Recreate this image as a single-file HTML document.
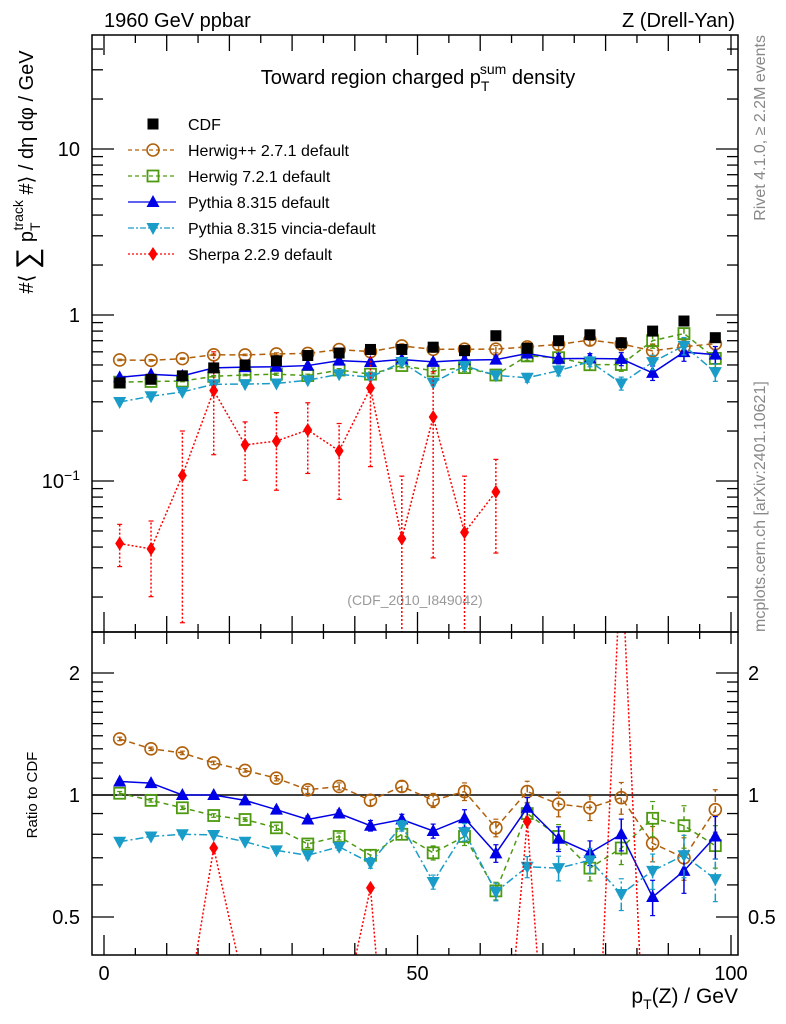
<!DOCTYPE html>
<html><head><meta charset="utf-8"><style>
html,body{margin:0;padding:0;background:#fff;width:786px;height:1024px;overflow:hidden;}
svg{display:block;font-family:"Liberation Sans",sans-serif;}
</style></head><body>
<svg id="chart" width="786" height="1024" xmlns="http://www.w3.org/2000/svg">
<defs>
<clipPath id="cm"><rect x="92" y="35" width="646" height="597"/></clipPath>
<clipPath id="cr"><rect x="92" y="632" width="646" height="323"/></clipPath>
</defs>
<text x="104" y="27" font-size="20">1960 GeV ppbar</text>
<text x="735" y="27" font-size="20" text-anchor="end">Z (Drell-Yan)</text>
<text x="418" y="84" font-size="20" text-anchor="middle">Toward region charged p<tspan font-size="14" dy="7">T</tspan><tspan font-size="14" dx="-8" dy="-17">sum</tspan><tspan dy="10"> density</tspan></text>
<text transform="translate(33,172) rotate(-90)" font-size="20" text-anchor="middle">#⟨ <tspan font-size="30" dy="4">∑</tspan><tspan dy="-4"> p</tspan><tspan font-size="14" dy="7">T</tspan><tspan font-size="14" dx="-8" dy="-17">track</tspan><tspan dy="10"> #⟩ / dη dφ / GeV</tspan></text>
<text transform="translate(37,795) rotate(-90)" font-size="15" text-anchor="middle">Ratio to CDF</text>
<text x="738" y="1003" font-size="21" text-anchor="end">p<tspan font-size="14" dy="6">T</tspan><tspan dy="-6">(Z) / GeV</tspan></text>
<text transform="translate(765,35) rotate(-90)" font-size="16" fill="#888" text-anchor="end">Rivet 4.1.0, ≥ 2.2M events</text>
<text transform="translate(765,632) rotate(-90)" font-size="16" fill="#888">mcplots.cern.ch [arXiv:2401.10621]</text>
<text x="415" y="605" font-size="14" fill="#999" text-anchor="middle">(CDF_2010_I849042)</text>
<g id="axes"></g>
<g id="marks"></g>
<g id="legend"></g>
<rect x="92" y="35" width="646" height="597" fill="none" stroke="#000" stroke-width="1.5"/>
<rect x="92" y="632" width="646" height="323" fill="none" stroke="#000" stroke-width="1.5"/>
</svg>
<script>
const bins=[2.5,7.5,12.5,17.5,22.5,27.5,32.5,37.5,42.5,47.5,52.5,57.5,62.5,67.5,72.5,77.5,82.5,87.5,92.5,97.5];
const cdf=[0.39,0.41,0.43,0.48,0.50,0.53,0.57,0.59,0.62,0.62,0.64,0.61,0.75,0.63,0.70,0.76,0.68,0.80,0.92,0.73];
const herwigppRatio=[1.375,1.30,1.27,1.20,1.15,1.10,1.03,1.05,0.97,1.05,0.97,1.02,0.83,1.02,0.95,0.93,0.985,0.76,0.70,0.92];
const herwig7Ratio=[1.01,0.97,0.93,0.89,0.87,0.83,0.757,0.79,0.71,0.80,0.72,0.79,0.58,0.90,0.79,0.66,0.74,0.876,0.84,0.75];
const pythiaRatio=[1.08,1.07,1.00,1.00,0.97,0.92,0.87,0.90,0.84,0.87,0.815,0.876,0.718,0.93,0.78,0.72,0.80,0.56,0.65,0.79];
const vinciaRatio=[0.767,0.79,0.80,0.797,0.767,0.73,0.71,0.745,0.68,0.84,0.61,0.81,0.577,0.665,0.66,0.69,0.57,0.65,0.71,0.62];
const mcRelErr=[0.01,0.01,0.01,0.01,0.01,0.015,0.02,0.02,0.03,0.03,0.04,0.05,0.05,0.06,0.07,0.07,0.09,0.1,0.12,0.12];
const sherpa=[0.042,0.039,0.108,0.35,0.165,0.174,0.203,0.152,0.363,0.045,0.243,0.049,0.086,null,null,null,null,null,null,null];
const sherpaLo=[0.0305,0.0201,0.014,0.144,0.101,0.088,0.111,0.0775,0.122,0.005,0.0344,0.005,0.0368,null,null,null,null,null,null,null];
const sherpaHi=[0.0548,0.0574,0.2,0.6,0.227,0.258,0.296,0.222,0.6,0.107,0.455,0.107,0.135,null,null,null,null,null,null,null];
const sherpaRatio=[0.11,0.095,0.25,0.74,0.33,0.33,0.36,0.26,0.59,0.07,0.38,0.08,0.115,0.86,0.08,0.08,4.0,0.08,null,null];
const yMainTicks=["10","1"];

const NS="http://www.w3.org/2000/svg";
const X=v=>104+6.27*v;
const YM=v=>315-166*Math.log10(v);
const YR=r=>795-405.3*Math.log10(r);
const axes=document.getElementById('axes'), marks=document.getElementById('marks'), legend=document.getElementById('legend');
function el(t,a,p){const e=document.createElementNS(NS,t);for(const k in a)e.setAttribute(k,a[k]);(p||marks).appendChild(e);return e;}
function tick(x1,y1,x2,y2){const e=el('line',{x1,y1,x2,y2,stroke:'#000','stroke-width':1.3},axes);

}
for(let v=0;v<=100;v+=5){const x=X(v);const big=v%50===0?20:(v%10===0?16:8);
 tick(x,632,x,632-big);tick(x,35,x,35+big);tick(x,955,x,955-(v%50===0?20:(v%10===0?12:7)));tick(x,632,x,632+(v%10===0?12:7));}
[0,50,100].forEach(v=>{const t=el('text',{x:X(v),y:980,'font-size':20,'text-anchor':'middle'},axes);t.textContent=v;

});
for(let e=-2;e<=1;e++)for(let k=1;k<=9;k++){const v=k*Math.pow(10,e);const y=YM(v);if(y<35||y>632)continue;const L=k===1?22:11;tick(92,y,92+L,y);tick(738,y,738-L,y);}
yMainTicks.forEach(s=>{const t=el('text',{x:80,y:YM(parseFloat(s))+7,'font-size':20,'text-anchor':'end'},axes);t.textContent=s;

});
{const t=el('text',{x:80,y:YM(0.1)+7,'font-size':20,'text-anchor':'end'},axes);t.innerHTML='10<tspan font-size="14" dy="-8">−1</tspan>';

}
const rt=[0.5,0.6,0.7,0.8,0.9,1,1.1,1.2,1.3,1.4,1.5,1.6,1.7,1.8,1.9,2];
rt.forEach(r=>{const y=YR(r);const L=(r===1||r===2||r===0.5)?22:11;tick(92,y,92+L,y);tick(738,y,738-L,y);});
[["2",2],["1",1],["0.5",0.5]].forEach(([s,r])=>{let t=el('text',{x:80,y:YR(r)+7,'font-size':20,'text-anchor':'end'},axes);t.textContent=s;


t=el('text',{x:748,y:YR(r)+7,'font-size':20},axes);t.textContent=s;

});
{const l=el('line',{x1:92,y1:YR(1),x2:738,y2:YR(1),stroke:'#000','stroke-width':1.5});

}

function marker(type,x,y,c,g){
 let m;
 if(type==='sq')m=el('rect',{x:x-5.5,y:y-5.5,width:11,height:11,fill:c},g);
 else if(type==='osq')m=el('rect',{x:x-5.5,y:y-5.5,width:11,height:11,fill:'#fff','fill-opacity':0,stroke:c,'stroke-width':1.8},g);
 else if(type==='oc')m=el('circle',{cx:x,cy:y,r:6,fill:'none',stroke:c,'stroke-width':1.6},g);
 else if(type==='tu')m=el('polygon',{points:`${x},${y-7} ${x-6.5},${y+5} ${x+6.5},${y+5}`,fill:c},g);
 else if(type==='td')m=el('polygon',{points:`${x},${y+7} ${x-6.5},${y-5} ${x+6.5},${y-5}`,fill:c},g);
 else m=el('polygon',{points:`${x},${y-7} ${x-4.5},${y} ${x},${y+7} ${x+4.5},${y}`,fill:c},g);
 return m;
}
function series(name,vals,lo,hi,Y,clip,c,dash,type,noLine){
 const g=el('g',{'clip-path':`url(#${clip})`});
 
 
 if(!noLine){
 let pts=[];
 vals.forEach((v,i)=>{if(v==null){if(pts.length>1)el('polyline',{points:pts.join(' '),fill:'none',stroke:c,'stroke-width':1.5,'stroke-dasharray':dash},g);pts=[];return;}
  pts.push(X(bins[i])+','+Y(v));});
 if(pts.length>1)el('polyline',{points:pts.join(' '),fill:'none',stroke:c,'stroke-width':1.5,'stroke-dasharray':dash},g);
 }
 vals.forEach((v,i)=>{if(v==null)return;const x=X(bins[i]);
  if(lo&&lo[i]!=null){el('line',{x1:x,y1:Y(lo[i]),x2:x,y2:Y(hi[i]),stroke:c,'stroke-width':1.5,'stroke-dasharray':dash},g);
   el('line',{x1:x-2.5,y1:Y(lo[i]),x2:x+2.5,y2:Y(lo[i]),stroke:c,'stroke-width':1.2},g);
   el('line',{x1:x-2.5,y1:Y(hi[i]),x2:x+2.5,y2:Y(hi[i]),stroke:c,'stroke-width':1.2},g);}
  const m=marker(type,x,Y(v),c,g);
  
  });
}
const HC='#b0600a',GC='#4d9a10',PC='#0000e6',VC='#1a9cc8',SC='#ff0000';
const defs=[
 ['herwigpp',herwigppRatio,HC,'6,4','oc'],
 ['herwig7',herwig7Ratio,GC,'5,4','osq'],
 ['pythia',pythiaRatio,PC,'','tu'],
 ['vincia',vinciaRatio,VC,'8,3,2,3','td']];
defs.forEach(([n,r,c,d,t])=>{
 const main=r.map((x,i)=>x*cdf[i]);
 const lo=main.map((m,i)=>m*(1-mcRelErr[i])), hi=main.map((m,i)=>m*(1+mcRelErr[i]));
 series(n+'-main',main,lo,hi,YM,'cm',c,d,t);
 const rlo=r.map((x,i)=>x*(1-mcRelErr[i])), rhi=r.map((x,i)=>x*(1+mcRelErr[i]));
 series(n+'-ratio',r,rlo,rhi,YR,'cr',c,d,t);
});
series('sherpa-main',sherpa,sherpaLo,sherpaHi,YM,'cm',SC,'2,2','dia');
series('sherpa-ratio',sherpaRatio,null,null,YR,'cr',SC,'2,2','dia');
series('cdf-data',cdf,null,null,YM,'cm','#000','','sq',true);

const leg=[['CDF','#000','','sq'],['Herwig++ 2.7.1 default',HC,'4,3','oc'],['Herwig 7.2.1 default',GC,'4,3','osq'],
 ['Pythia 8.315 default',PC,'','tu'],['Pythia 8.315 vincia-default',VC,'6,2,2,2','td'],['Sherpa 2.2.9 default',SC,'2,2','dia']];
leg.forEach(([s,c,d,t],i)=>{const y=123+i*26;
 const g=el('g',{},legend);
 
 
 if(i>0)el('line',{x1:128,y1:y+1,x2:176,y2:y+1,stroke:c,'stroke-width':1.3,'stroke-dasharray':d},g);
 marker(t,153,y+1,c,g);
 const tx=el('text',{x:188,y:y+7,'font-size':16},g);tx.textContent=s;});
</script>
</body></html>
